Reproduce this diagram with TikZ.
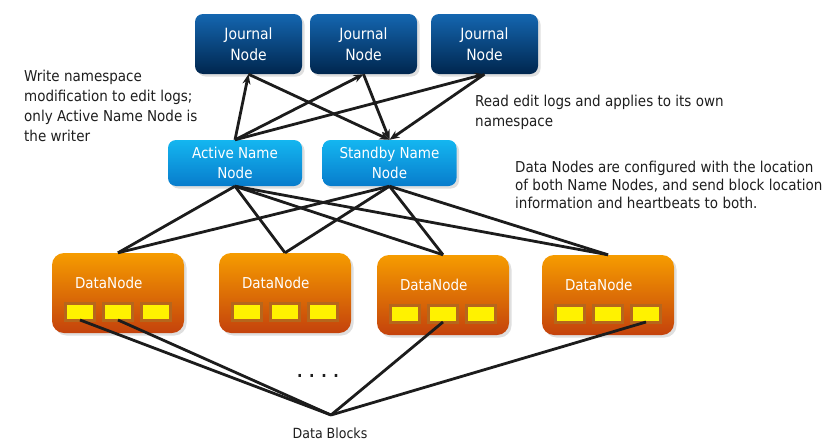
\documentclass[tikz,border=0pt]{standalone}
\usepackage{fontspec}
\setmainfont{DejaVu Sans Condensed}
\usetikzlibrary{arrows.meta}
\usetikzlibrary{positioning}
\usetikzlibrary{shadows,calc}
\definecolor{jntop}{RGB}{20,102,176}
\definecolor{jnbot}{RGB}{0,38,78}
\definecolor{nntop}{RGB}{20,182,240}
\definecolor{nnbot}{RGB}{8,124,204}
\definecolor{dntop}{RGB}{246,156,0}
\definecolor{dnbot}{RGB}{196,66,12}
\definecolor{blkedge}{RGB}{182,102,28}
\definecolor{wire}{RGB}{28,28,28}
\definecolor{notetext}{RGB}{30,30,30}

\begin{document}
\begin{tikzpicture}[x=1pt,y=-1pt]
\tikzset{boxshadow/.style={drop shadow={opacity=0.25,shadow xshift=2.5pt,shadow yshift=-2.5pt}},
journalnode/.style={rectangle,rounded corners=8pt,minimum width=107pt,minimum height=60pt,top color=jntop,bottom color=jnbot,text=white,align=center,text depth=0pt,font=\fontsize{15.5}{21}\selectfont,boxshadow},
namenode/.style={rectangle,rounded corners=8pt,minimum width=134pt,minimum height=46pt,top color=nntop,bottom color=nnbot,text=white,align=center,text depth=0pt,font=\fontsize{15}{20}\selectfont,boxshadow},
datanode/.style={rectangle,rounded corners=12pt,minimum width=132pt,minimum height=80pt,top color=dntop,bottom color=dnbot,boxshadow},
dnlabel/.style={anchor=base west,inner sep=0pt,text=white,font=\fontsize{15}{18}\selectfont},
datablock/.style={rectangle,minimum width=29pt,minimum height=17pt,inner sep=0pt,outer sep=0pt,line width=3pt,draw=blkedge,fill=yellow},
note/.style={anchor=north west,inner sep=0pt,align=left,text=notetext,font=\fontsize{15}{20}\selectfont},
link/.style={line width=2.8pt,draw=wire},
feed/.style={link,-{Stealth[length=10pt,width=8pt]}}}
\useasboundingbox (0,0) rectangle (832,447);

% journal nodes
\node[journalnode](jn1) at (248.5,44){Journal\\Node};
\node[journalnode](jn2) at (363.5,44){Journal\\Node};
\node[journalnode](jn3) at (484.5,44){Journal\\Node};

% name nodes
\node[namenode](act) at (235,163){Active Name\\Node};
\node[namenode](sby) at (389.5,163){Standby Name\\Node};

\draw[feed](act.north) -- (jn1.south);
\draw[feed](act.north) -- (jn2.south);
\draw[feed](act.north) -- (jn3.south);
\draw[feed](jn1.south) -- (sby.north);
\draw[feed](jn2.south) -- (sby.north);
\draw[feed](jn3.south) -- (sby.north);

% data nodes
\node[datanode](d1) at (118,293){};
\node[dnlabel](d1t) at ($(d1.north west)+(23,36)$){DataNode};
\node[datablock](d1a) at ($(d1)+(-38,18.5)$){};
\node[datablock](d1b)[right=9pt of d1a]{};
\node[datablock](d1c)[right=9pt of d1b]{};

\node[datanode](d2) at (285,293){};
\node[dnlabel](d2t) at ($(d2.north west)+(23,36)$){DataNode};
\node[datablock](d2a) at ($(d2)+(-38,18.5)$){};
\node[datablock](d2b)[right=9pt of d2a]{};
\node[datablock](d2c)[right=9pt of d2b]{};

\node[datanode](d3) at (443,295){};
\node[dnlabel](d3t) at ($(d3.north west)+(23,36)$){DataNode};
\node[datablock](d3a) at ($(d3)+(-38,18.5)$){};
\node[datablock](d3b)[right=9pt of d3a]{};
\node[datablock](d3c)[right=9pt of d3b]{};

\node[datanode](d4) at (608,295){};
\node[dnlabel](d4t) at ($(d4.north west)+(23,36)$){DataNode};
\node[datablock](d4a) at ($(d4)+(-38,18.5)$){};
\node[datablock](d4b)[right=9pt of d4a]{};
\node[datablock](d4c)[right=9pt of d4b]{};

\draw[link](act.south) -- (d1.north);
\draw[link](act.south) -- (d2.north);
\draw[link](act.south) -- (d3.north);
\draw[link](act.south) -- (d4.north);
\draw[link](sby.south) -- (d1.north);
\draw[link](sby.south) -- (d2.north);
\draw[link](sby.south) -- (d3.north);
\draw[link](sby.south) -- (d4.north);

% data blocks
\coordinate(blk) at (331,415);
\draw[link](d1a.south) -- (blk);
\draw[link](d1b.south) -- (blk);
\draw[link](d3b.south) -- (blk);
\draw[link](d4c.south) -- (blk);
\node[text=notetext,font=\fontsize{14}{16}\selectfont](blktxt) at (330,433){Data Blocks};
\node[text=notetext,font=\bfseries\fontsize{16}{18}\selectfont](dots) at (318,376){. . . .};

% notes
\node[note](wnote) at (24,69.5){Write namespace\\modification to edit logs;\\only Active Name Node is\\the writer};
\node[note](rnote) at (475,94.5){Read edit logs and applies to its own\\namespace};
\node[note,font=\fontsize{15}{18}\selectfont](dnote) at (515,160.5){Data Nodes are configured with the location\\of both Name Nodes, and send block location\\information and heartbeats to both.};
\end{tikzpicture}
\end{document}
